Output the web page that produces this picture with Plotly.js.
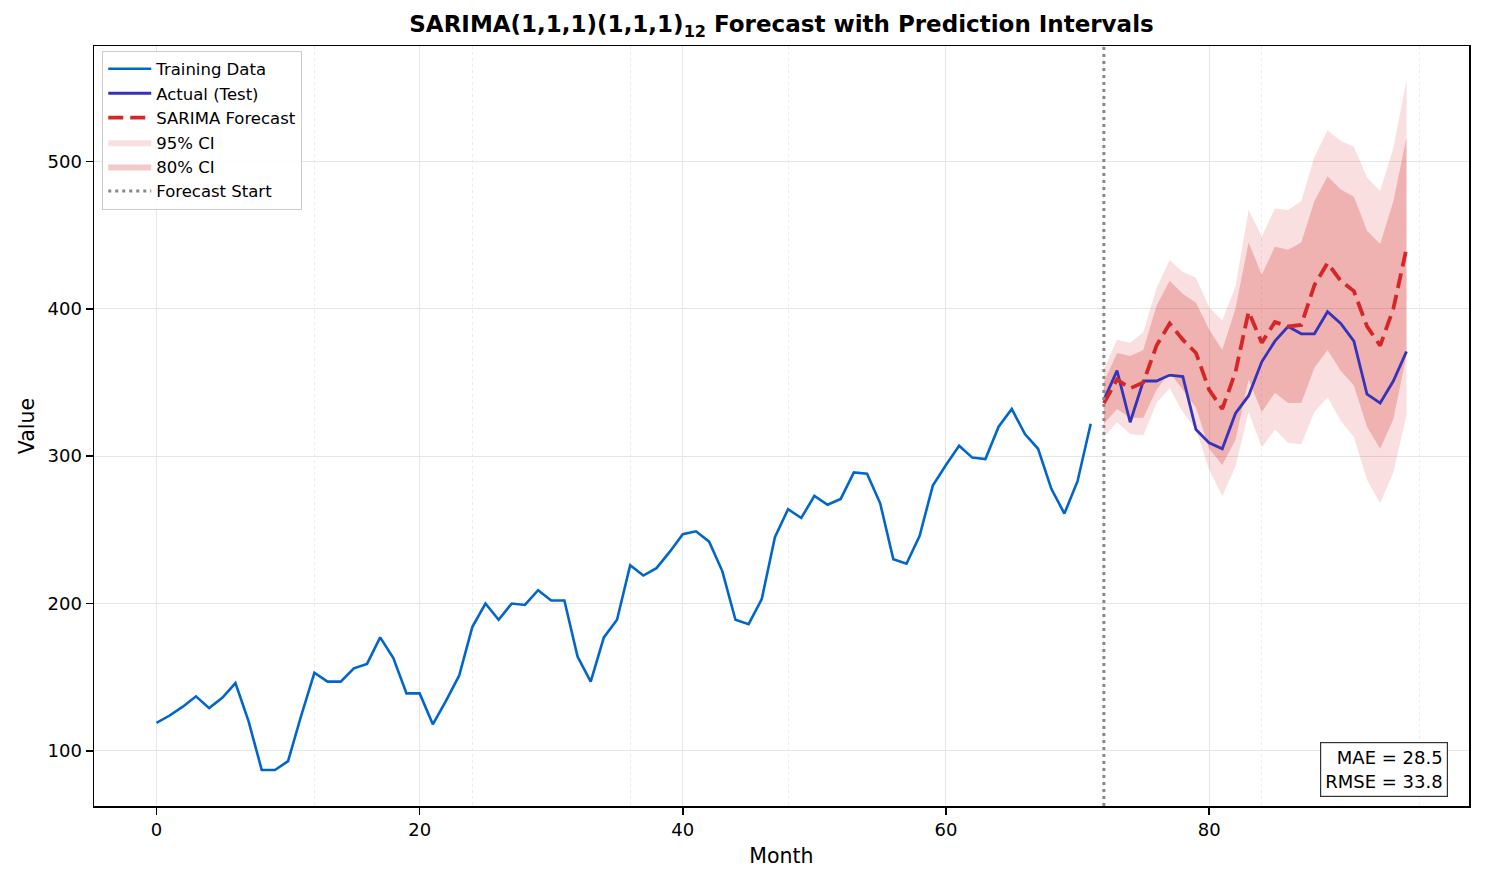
<!DOCTYPE html>
<html>
<head>
<meta charset="utf-8">
<script src="https://cdn.plot.ly/plotly-3.0.1.min.js"></script>
<style>
  html, body { margin: 0; padding: 0; background: #fff; }
  #chart { width: 1486px; height: 883px; }
</style>
</head>
<body>
<div id="chart"></div>
<script>
// Training series, months 0..71
var trainValues = [119, 124, 130, 137, 129, 136, 146, 120, 87, 87,
  93, 124, 153, 147, 147, 156, 159, 177, 163, 139,
  139, 118, 134, 151, 184, 200, 189, 200, 199, 209,
  202, 202, 164, 147, 177, 189, 226, 219, 224, 235,
  247, 249, 242, 222, 189, 186, 203, 245, 264, 258,
  273, 267, 271, 289, 288, 268, 230, 227, 246, 280,
  294, 307, 299, 298, 320, 332, 315, 305, 278, 261,
  283, 322];

// Test period, months 72..95
var actualValues = [338, 358, 323, 351, 351, 355, 354, 318, 309, 305, 329, 341,
  364, 378, 388, 383, 383, 398, 390, 378, 342, 336, 351, 371];
var forecastValues = [336, 352, 346, 350, 375, 390, 379, 370, 345, 332, 357, 398,
  377, 391, 388, 389, 416, 431, 419, 412, 388, 375, 400, 441];
var upper95 = [359, 379, 377, 384, 414, 433, 425, 421, 401, 392, 415, 467,
  449, 468, 467, 473, 503, 521, 514, 510, 489, 480, 509, 555];
var lower95 = [313, 323, 315, 314, 336, 346, 330, 318, 291, 273, 293, 330,
  306, 318, 309, 308, 330, 340, 324, 313, 284, 268, 289, 328];
var upper80 = [350, 370, 368, 372, 402, 419, 410, 404, 386, 372, 400, 445,
  423, 442, 440, 445, 473, 490, 481, 476, 453, 444, 473, 516];
var lower80 = [322, 332, 326, 326, 345, 357, 345, 333, 305, 294, 311, 352,
  330, 343, 336, 336, 360, 372, 358, 348, 320, 305, 325, 369];

var forecastStart = 72;
var maeText = 'MAE = 28.5';
var rmseText = 'RMSE = 33.8';

var trainMonths = trainValues.map(function (v, i) { return i; });
var testMonths = actualValues.map(function (v, i) { return forecastStart + i; });

var red = '#d62728';
var font = 'DejaVu Sans, Liberation Sans, sans-serif';

var data = [
  {
    x: testMonths, y: lower95, type: 'scatter', mode: 'lines',
    line: { width: 0 }, showlegend: false, hoverinfo: 'skip'
  },
  {
    x: testMonths, y: upper95, type: 'scatter', mode: 'lines',
    fill: 'tonexty', fillcolor: 'rgba(214,39,40,0.15)',
    line: { width: 0 }, name: '95% CI', legendrank: 4
  },
  {
    x: testMonths, y: lower80, type: 'scatter', mode: 'lines',
    line: { width: 0 }, showlegend: false, hoverinfo: 'skip'
  },
  {
    x: testMonths, y: upper80, type: 'scatter', mode: 'lines',
    fill: 'tonexty', fillcolor: 'rgba(214,39,40,0.25)',
    line: { width: 0 }, name: '80% CI', legendrank: 5
  },
  {
    x: trainMonths, y: trainValues, type: 'scatter', mode: 'lines',
    line: { color: '#0066cc', width: 2.6 }, name: 'Training Data', legendrank: 1
  },
  {
    x: testMonths, y: actualValues, type: 'scatter', mode: 'lines',
    line: { color: '#3333bb', width: 2.8 }, name: 'Actual (Test)', legendrank: 2
  },
  {
    x: testMonths, y: forecastValues, type: 'scatter', mode: 'lines',
    line: { color: red, width: 3.8, dash: '15px,7px' },
    name: 'SARIMA Forecast', legendrank: 3
  }
];

var layout = {
  width: 1486,
  height: 883,
  margin: { l: 94, r: 17, t: 46, b: 77 },
  paper_bgcolor: '#fff',
  plot_bgcolor: '#fff',
  font: { family: font, size: 18, color: '#000' },
  title: {
    text: '<b>SARIMA(1,1,1)(1,1,1)<sub>12</sub> Forecast with Prediction Intervals</b>',
    font: { family: font, size: 23, color: '#000' },
    x: 0.5, xref: 'paper', xanchor: 'center',
    y: 1 - 24 / 883, yref: 'container', yanchor: 'middle'
  },
  xaxis: {
    range: [-4.75, 99.75],
    tickvals: [0, 20, 40, 60, 80],
    ticks: 'outside', ticklen: 7, tickwidth: 1.5, tickcolor: '#000',
    showline: true, linecolor: '#000', linewidth: 1.5, mirror: true,
    showgrid: true, gridcolor: '#e6e6e6', gridwidth: 1,
    zeroline: false,
    minor: {
      tick0: 0, dtick: 12, ticks: '',
      showgrid: true, gridcolor: '#ececec', griddash: 'dot', gridwidth: 1
    },
    tickfont: { size: 18 },
    title: { text: 'Month', font: { size: 20.5 }, standoff: 9 }
  },
  yaxis: {
    range: [62.6, 578.3],
    tickvals: [100, 200, 300, 400, 500],
    ticks: 'outside', ticklen: 7, tickwidth: 1.5, tickcolor: '#000',
    showline: true, linecolor: '#000', linewidth: 1.5, mirror: true,
    showgrid: true, gridcolor: '#e6e6e6', gridwidth: 1,
    zeroline: false,
    tickfont: { size: 18 },
    title: { text: 'Value', font: { size: 20.5 }, standoff: 7 }
  },
  legend: {
    x: 0.006, y: 0.994, xanchor: 'left', yanchor: 'top',
    bgcolor: 'rgba(255,255,255,0.85)', bordercolor: '#cccccc', borderwidth: 1,
    font: { size: 16.5 }, traceorder: 'normal', itemwidth: 43
  },
  shapes: [
    {
      type: 'line', xref: 'x', yref: 'paper',
      x0: forecastStart, x1: forecastStart, y0: 0, y1: 1,
      line: { color: '#888888', width: 3, dash: '3px,4px' },
      name: 'Forecast Start', showlegend: true, legendrank: 6
    }
  ],
  annotations: [
    {
      xref: 'paper', yref: 'paper', x: 0.985, y: 0.012,
      xanchor: 'right', yanchor: 'bottom',
      text: maeText + '<br>' + rmseText, align: 'right', showarrow: false,
      font: { size: 18, color: '#000' },
      bgcolor: '#fff', bordercolor: '#333333', borderwidth: 1.2, borderpad: 4
    }
  ]
};

Plotly.newPlot('chart', data, layout, { displayModeBar: false, staticPlot: true });
</script>
</body>
</html>
